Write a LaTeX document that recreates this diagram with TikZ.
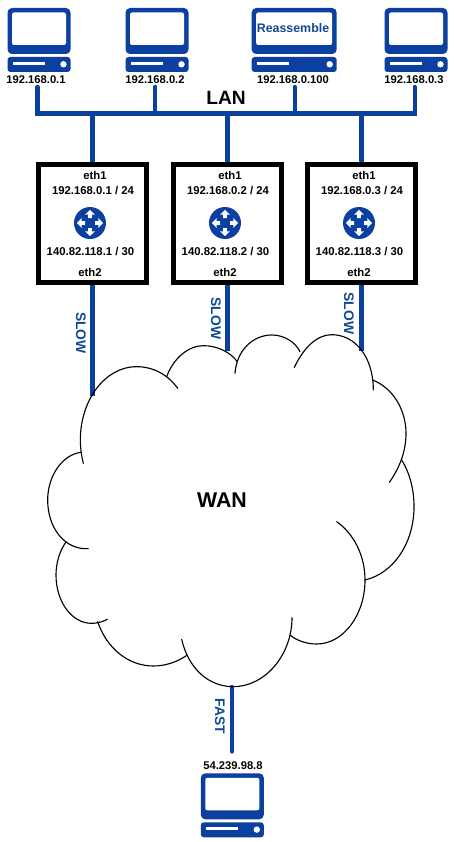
\documentclass[tikz,border=0pt]{standalone}
\usepackage{fontspec}
\setmainfont{Liberation Sans}
\definecolor{netblue}{HTML}{0B3FA0}
\definecolor{slowblue}{HTML}{0F4A96}
\tikzset{
  x=0.75pt,y=-0.75pt,
  link/.style={draw=netblue,line width=3.3pt},
  iptext/.style={font=\fontsize{8.4pt}{9pt}\selectfont\bfseries,inner sep=0pt},
  gwtext/.style={font=\fontsize{8.5pt}{9pt}\selectfont\bfseries,inner sep=0pt},
  speed/.style={font=\fontsize{10.4pt}{11pt}\selectfont\bfseries,text=slowblue,rotate=-90,inner sep=0pt},
  lantext/.style={font=\fontsize{14.4pt}{15pt}\selectfont\bfseries,inner sep=0pt},
  wantext/.style={font=\fontsize{16pt}{17pt}\selectfont\bfseries,inner sep=0pt},
  gwbox/.style={draw=black,line width=3.5pt,fill=white,minimum width=81.3pt,minimum height=88.8pt,inner sep=0pt},
  cloudarc/.style={draw=black,line width=0.85pt,line cap=round},
  pics/computer/.default=31.5,
  pics/computer/.style={code={
    \fill[netblue,rounded corners=3.4pt] (-#1,-33) rectangle (#1,13);
    \fill[white,rounded corners=1.5pt] (-#1+4.5,-28.5) rectangle (#1-4.5,4);
    \fill[netblue,rounded corners=2.2pt] (-#1,16) rectangle (#1,31);
    \fill[white] (-#1+5.5,20.7) rectangle (-#1+37,23.7);
    \fill[white] (#1-7,23.3) circle (3.2);
  }},
  pics/routericon/.style={code={
    \fill[netblue] (0,0) circle (16);
    \foreach \r in {0,90,180,270}{
      \fill[white,rotate=\r] (0,-13) -- (5,-8.3) -- (1.9,-8.3) -- (1.9,-5) -- (-1.9,-5) -- (-1.9,-8.3) -- (-5,-8.3) -- cycle;
    }
  }},
}
\begin{document}
\begin{tikzpicture}
\useasboundingbox (0,0) rectangle (457,842);
\fill[white] (0,0) rectangle (457,842);
% named points of the LAN bus and the WAN edge
\coordinate (busA) at (37.5,113.5);
\coordinate (busB) at (155.2,113.5);
\coordinate (busC) at (294.7,113.5);
\coordinate (busD) at (414.7,113.5);
\coordinate (topA) at (37.5,87);
\coordinate (topB) at (155.2,87);
\coordinate (topC) at (294.7,87);
\coordinate (topD) at (414.7,87);
\coordinate (lan1) at (92.5,113.5);
\coordinate (lan2) at (227.5,113.5);
\coordinate (lan3) at (361.5,113.5);
\coordinate (wan1) at (92.5,396);
\coordinate (wan2) at (227.5,351);
\coordinate (wan3) at (361.5,351);
\coordinate (wanS) at (232,687);
\coordinate (srvT) at (232,751.5);
% computers
\pic at (39,41) {computer};
\pic at (157,41) {computer};
\pic at (294.2,41) {computer=42.5};
\pic at (416,41) {computer};
\pic at (232.3,806.3) {computer};
\node[font=\fontsize{9.3pt}{10pt}\selectfont\bfseries,text=slowblue,inner sep=0pt] (reasm) at (293,28.5) {Reassemble};
% IP labels
\node[iptext] (ip1) at (36,80) {192.168.0.1};
\node[iptext] (ip2) at (155,80) {192.168.0.2};
\node[iptext] (ip3) at (293,80) {192.168.0.100};
\node[iptext] (ip4) at (414,80) {192.168.0.3};
\node[iptext] (ipS) at (233,765.5) {54.239.98.8};
% links
\draw[link,line cap=round] (topA) -- (busA);
\draw[link,line cap=round] (topB) -- (busB);
\draw[link,line cap=round] (topC) -- (busC);
\draw[link,line cap=round] (topD) -- (busD);
\draw[link,line cap=rect] (busA) -- (busD);
% gateways
\node[gwbox] (gw1) at (92.5,223.5) {};
\node[gwbox] (gw2) at (227.5,223.5) {};
\node[gwbox] (gw3) at (361.5,223.5) {};
\draw[link] (lan1) -- (gw1.north);
\draw[link] (lan2) -- (gw2.north);
\draw[link] (lan3) -- (gw3.north);
\draw[link] (gw1.south) -- (wan1);
\draw[link] (gw2.south) -- (wan2);
\draw[link] (gw3.south) -- (wan3);
\draw[link,line cap=round] (wanS) -- (srvT);
\foreach \g/\n in {92.5/1,227.5/2,361.5/3}{
  \node[gwtext] (ethA\n) at (\g+2.5,175) {eth1};
  \node[gwtext] (ipA\n) at (\g+0.5,191) {192.168.0.\n\ / 24};
  \pic at (\g-2.5,223) {routericon};
  \node[gwtext] (ipB\n) at (\g-2,252) {140.82.118.\n\ / 30};
  \node[gwtext] (ethB\n) at (\g-2.5,272) {eth2};
}
\node[speed] (s1) at (81,333) {SLOW};
\node[speed] (s2) at (216,318.5) {SLOW};
\node[speed] (s3) at (349,313.5) {SLOW};
\node[speed] (s4) at (220,716.5) {FAST};
\node[lantext] (lan) at (226,98) {LAN};
% cloud
\begin{scope}[shift={(30,320)},x=0.25pt,y=-0.25pt]
\draw[cloudarc] (160,430) .. controls (154,405) and (151,385) .. (151,360) .. controls (151,240) and (225,140) .. (320,140) .. controls (370,140) and (415,165) .. (443,205);
\draw[cloudarc] (410,170) .. controls (430,115) and (475,77) .. (520,77) .. controls (560,77) and (600,95) .. (622,125);
\draw[cloudarc] (615,160) .. controls (620,90) and (670,45) .. (725,45) .. controls (762,45) and (795,65) .. (810,95);
\draw[cloudarc] (793,142) .. controls (820,85) and (860,44) .. (905,44) .. controls (975,44) and (1030,110) .. (1030,210);
\draw[cloudarc] (1028,180) .. controls (1090,205) and (1128,270) .. (1128,340) .. controls (1128,395) and (1108,445) .. (1078,487);
\draw[cloudarc] (1115,420) .. controls (1140,460) and (1152,510) .. (1152,560) .. controls (1152,670) and (1090,760) .. (1005,780);
\draw[cloudarc] (920,605) .. controls (970,640) and (1005,705) .. (1005,780) .. controls (1005,885) and (940,972) .. (860,972) .. controls (830,972) and (800,962) .. (780,945);
\draw[cloudarc] (786,893) .. controls (786,1005) and (705,1100) .. (610,1100) .. controls (535,1100) and (475,1045) .. (455,958);
\draw[cloudarc] (472,1005) .. controls (440,1027) and (405,1038) .. (370,1038) .. controls (295,1038) and (230,985) .. (203,905);
\draw[cloudarc] (232,898) .. controls (217,906) and (200,910) .. (185,910) .. controls (125,910) and (78,845) .. (78,765) .. controls (78,730) and (88,695) .. (107,667);
\draw[cloudarc] (175,686) .. controls (105,690) and (53,625) .. (53,540) .. controls (53,470) and (95,405) .. (152,397);
\end{scope}
\node[wantext] (wan) at (222,500) {WAN};
\end{tikzpicture}
\end{document}
